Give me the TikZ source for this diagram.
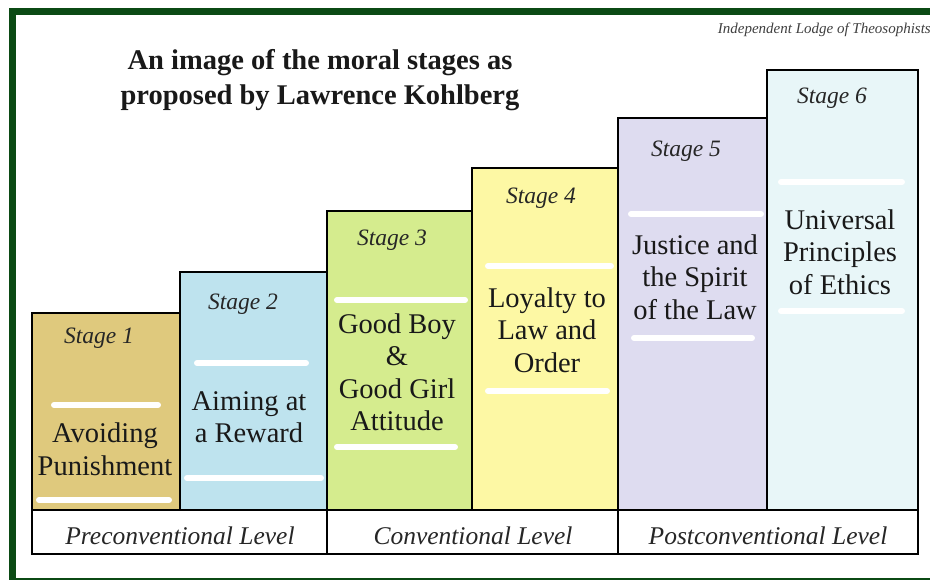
\documentclass[tikz,border=0pt]{standalone}
\usepackage{fontspec}
\setmainfont{Liberation Serif}
\begin{document}
\begin{tikzpicture}[x=1pt,y=-1pt,
  box/.style={draw=black,line width=2.2pt},
  bar/.style={draw=white,line width=6pt,line cap=round},
  stagelbl/.style={font=\fontsize{23.5}{26}\selectfont\itshape,text=black!85,inner sep=0pt},
  maintxt/.style={font=\fontsize{28.5}{32.5}\selectfont,text=black!90,align=center,inner sep=0pt},
  levellbl/.style={font=\fontsize{25.5}{28}\selectfont\itshape,text=black!85,inner sep=0pt}]
\definecolor{frame}{HTML}{0B4A14}
\definecolor{sone}{HTML}{DFC97D}
\definecolor{stwo}{HTML}{BEE3EE}
\definecolor{sthree}{HTML}{D5EC8E}
\definecolor{sfour}{HTML}{FDF8A4}
\definecolor{sfive}{HTML}{DEDCF0}
\definecolor{ssix}{HTML}{E8F6F8}
\useasboundingbox (0,0) rectangle (930,579);
\fill[white] (0,0) rectangle (930,579);
\draw[frame,line width=7pt] (12.5,11) rectangle (945,581.5);
% stage boxes
\draw[box,fill=sone] (32,313) rectangle (180,510);
\draw[box,fill=stwo] (180,272) rectangle (327,510);
\draw[box,fill=sthree] (327,211) rectangle (472,510);
\draw[box,fill=sfour] (472,168) rectangle (618,510);
\draw[box,fill=sfive] (618,118) rectangle (767,510);
\draw[box,fill=ssix] (767,70) rectangle (918,510);
% level row
\draw[box,fill=white] (32,510) rectangle (327,554);
\draw[box,fill=white] (327,510) rectangle (618,554);
\draw[box,fill=white] (618,510) rectangle (918,554);
% white bars
\draw[bar] (54,405) -- (158,405);
\draw[bar] (39,500) -- (169,500);
\draw[bar] (197,363) -- (306,363);
\draw[bar] (187,478) -- (321,478);
\draw[bar] (337,300) -- (465,300);
\draw[bar] (337,447) -- (455,447);
\draw[bar] (488,266) -- (611,266);
\draw[bar] (488,391) -- (607,391);
\draw[bar] (631,214) -- (761,214);
\draw[bar] (634,338) -- (752,338);
\draw[bar] (781,182) -- (902,182);
\draw[bar] (781,311) -- (902,311);
% title
\node[font=\fontsize{28.5}{35}\selectfont\bfseries,align=center,text=black!90,inner sep=0pt] (title) at (320,80) {An image of the moral stages as\\proposed by Lawrence Kohlberg};
\node[font=\fontsize{15}{17}\selectfont\itshape,text=black!75,anchor=east,inner sep=0pt] (credit) at (931,30) {Independent Lodge of Theosophists};
% stage labels
\node[stagelbl] (l1) at (99,338) {Stage 1};
\node[stagelbl] (l2) at (243,304) {Stage 2};
\node[stagelbl] (l3) at (392,240) {Stage 3};
\node[stagelbl] (l4) at (541,198) {Stage 4};
\node[stagelbl] (l5) at (686,151) {Stage 5};
\node[stagelbl] (l6) at (832,98) {Stage 6};
% main texts
\node[maintxt] (t1) at (105,449) {Avoiding\\Punishment};
\node[maintxt] (t2) at (249,417) {Aiming at\\a Reward};
\node[maintxt] (t3) at (397,372) {Good Boy\\\&\\Good Girl\\Attitude};
\node[maintxt] (t4) at (547,330) {Loyalty to\\Law and\\Order};
\node[maintxt] (t5) at (695,277) {Justice and\\the Spirit\\of the Law};
\node[maintxt] (t6) at (840,252) {Universal\\Principles\\of Ethics};
% level labels
\node[levellbl] (v1) at (180,536) {Preconventional Level};
\node[levellbl] (v2) at (473,536) {Conventional Level};
\node[levellbl] (v3) at (768,536) {Postconventional Level};
\end{tikzpicture}
\end{document}
